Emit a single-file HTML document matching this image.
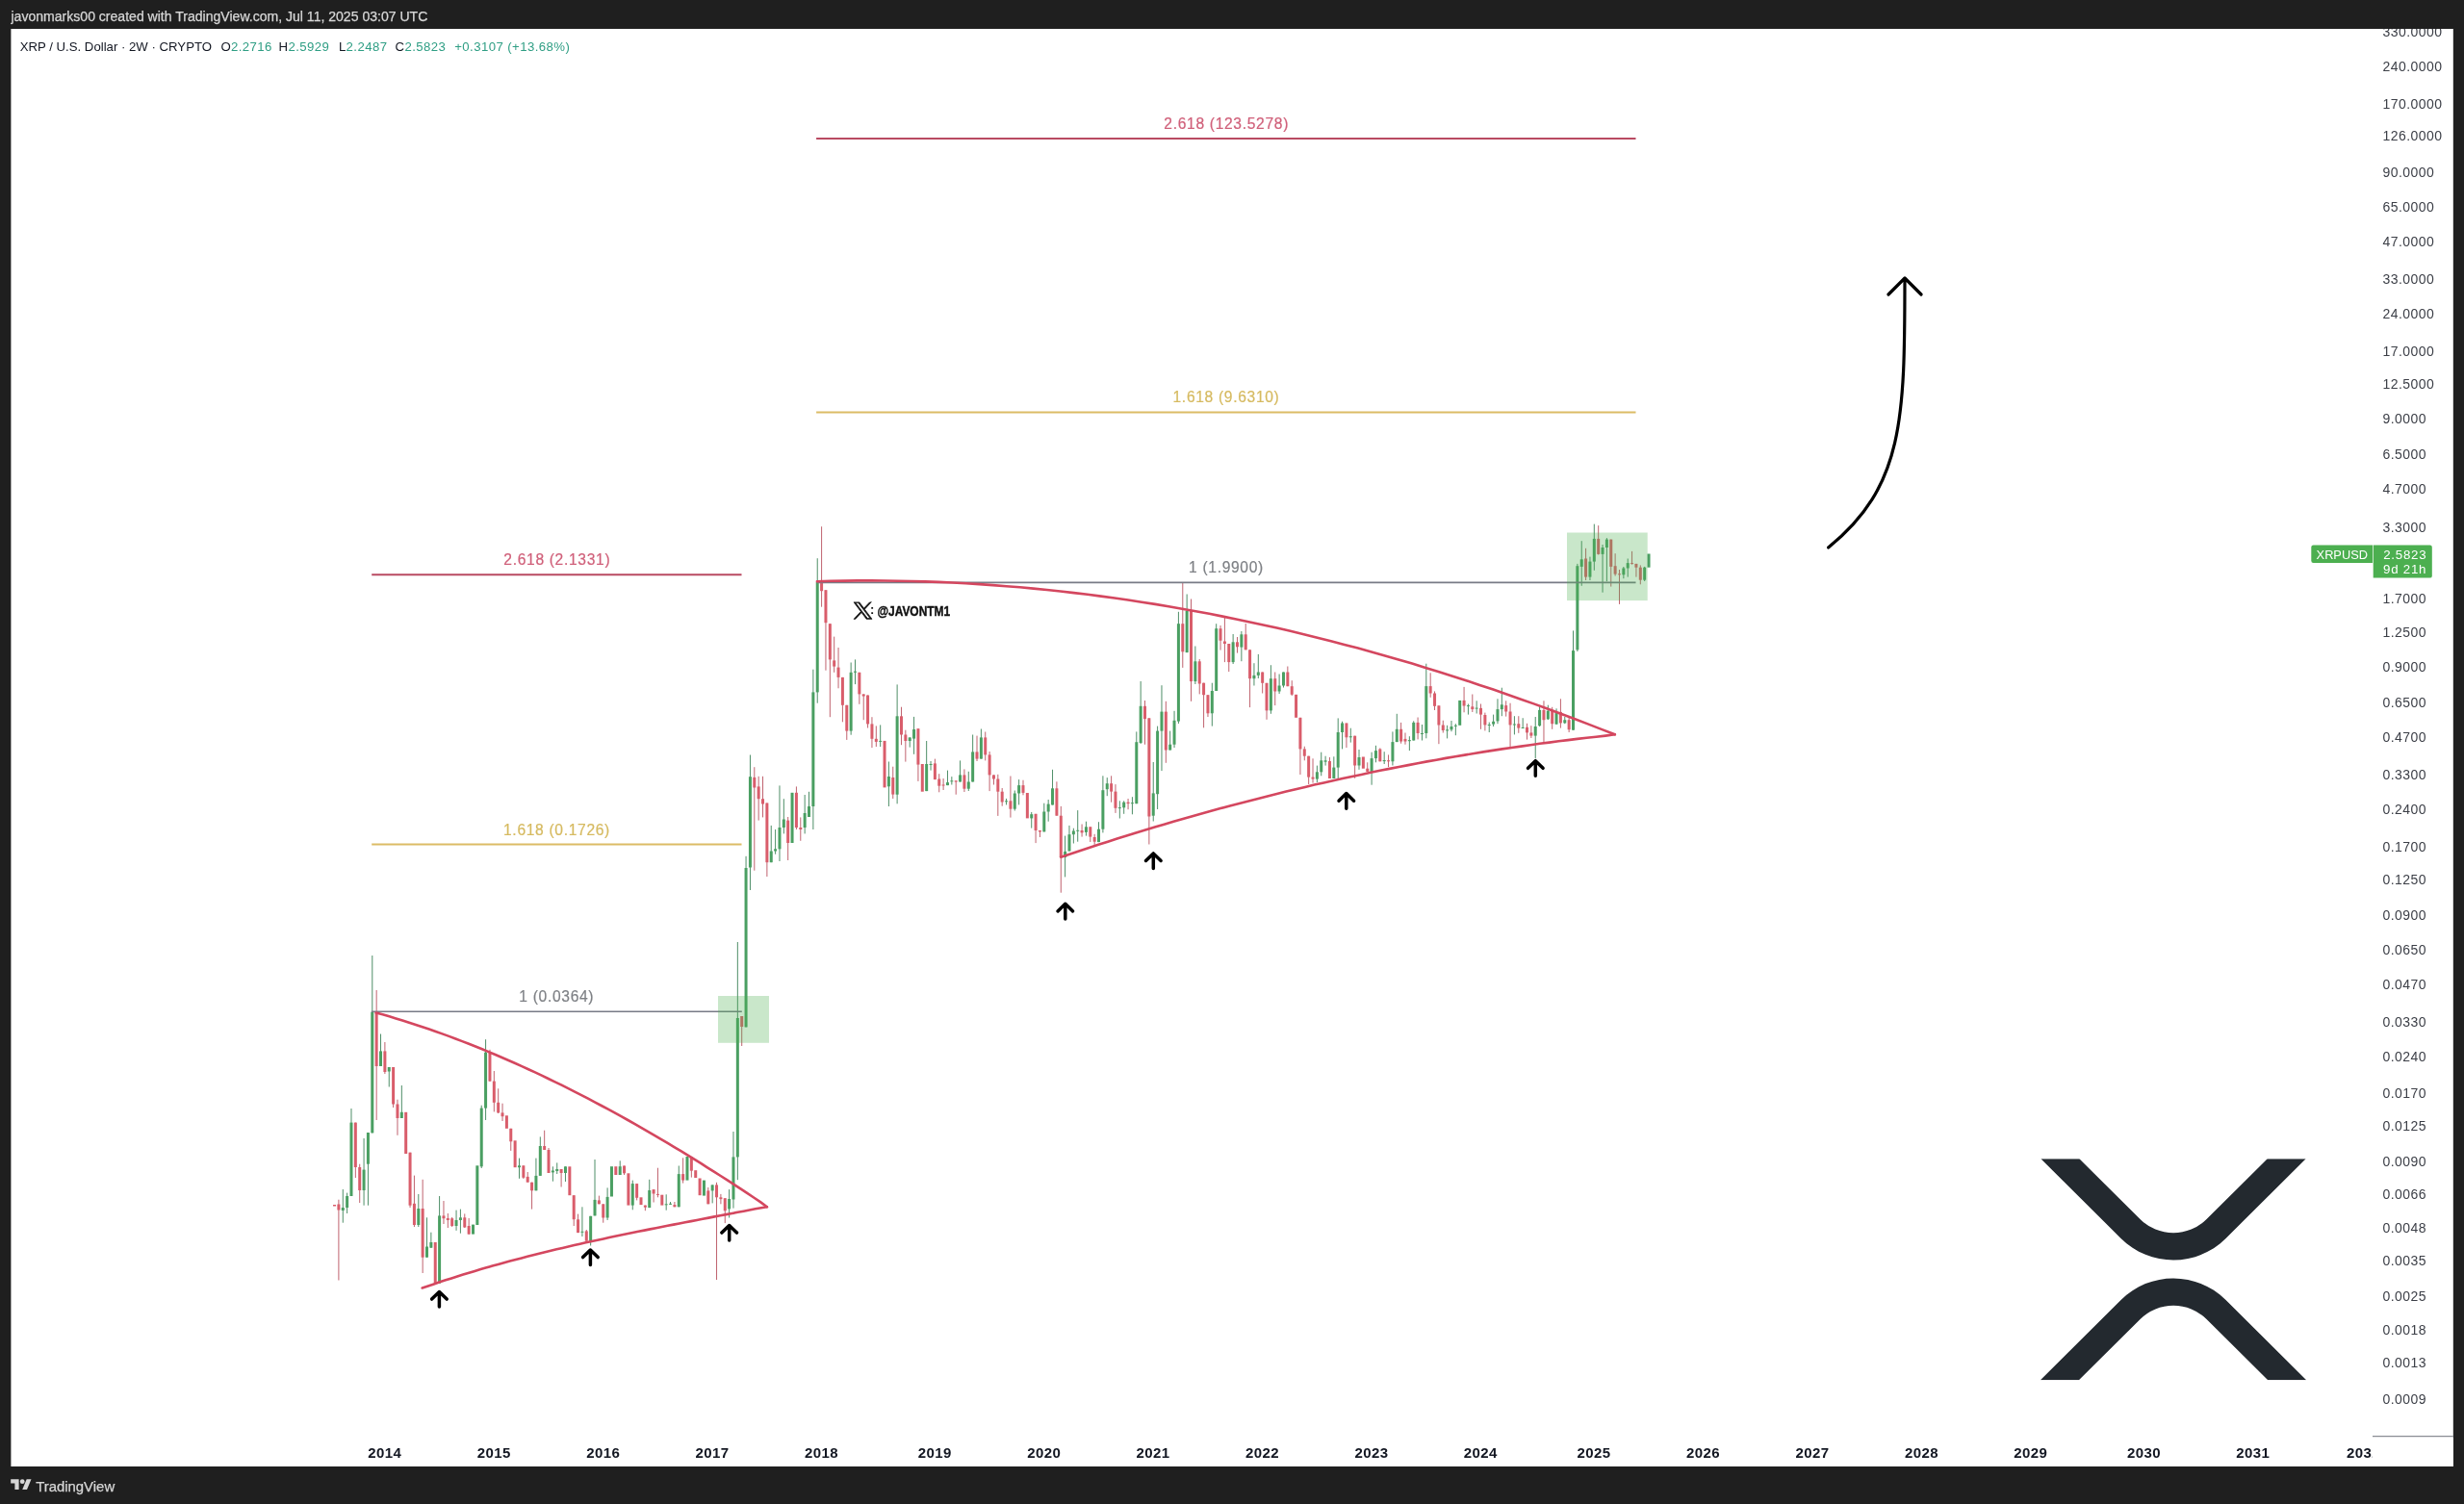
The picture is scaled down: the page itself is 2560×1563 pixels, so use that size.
<!DOCTYPE html>
<html><head><meta charset="utf-8"><style>
html,body{margin:0;padding:0;background:#1f1f1f;width:2560px;height:1563px;overflow:hidden}
svg text{font-family:"Liberation Sans",sans-serif}
</style></head><body>
<svg width="2560" height="1563" viewBox="0 0 2560 1563" style="position:absolute;left:0;top:0;will-change:transform">
<defs><clipPath id="pane"><rect x="11.4" y="30" width="2537.4" height="1494"/></clipPath>
<clipPath id="chart"><rect x="11.4" y="30" width="2453.6" height="1462"/></clipPath></defs>
<rect x="0" y="0" width="2560" height="1563" fill="#1f1f1f"/>
<rect x="11.4" y="30" width="2537.4" height="1494" fill="#ffffff"/>
<text x="11.5" y="22.1" font-size="14.05" fill="#d7d7d7" stroke="#d7d7d7" stroke-width="0.25">javonmarks00 created with TradingView.com, Jul 11, 2025 03:07 UTC</text>
<g clip-path="url(#pane)">
<g clip-path="url(#chart)">

<!-- candles -->
<rect x="346.03" y="1252" width="3" height="1.5" fill="#d95d6b"/>
<rect x="351.39" y="1246.7" width="1" height="83.8" fill="#c0636f"/>
<rect x="350.39" y="1251.5" width="3" height="6" fill="#d95d6b"/>
<rect x="355.76" y="1236" width="1" height="34.7" fill="#4f8f68"/>
<rect x="354.76" y="1255" width="3" height="3" fill="#4a9f62"/>
<rect x="360.12" y="1239.6" width="1" height="21.4" fill="#4f8f68"/>
<rect x="359.12" y="1243" width="3" height="12" fill="#4a9f62"/>
<rect x="364.48" y="1152" width="1" height="91" fill="#4f8f68"/>
<rect x="363.48" y="1166.6" width="3" height="76.4" fill="#4a9f62"/>
<rect x="368.84" y="1166.6" width="1" height="57.4" fill="#c0636f"/>
<rect x="367.84" y="1166.6" width="3" height="46.4" fill="#d95d6b"/>
<rect x="373.21" y="1209.7" width="1" height="40.3" fill="#c0636f"/>
<rect x="372.21" y="1213" width="3" height="24" fill="#d95d6b"/>
<rect x="377.57" y="1183" width="1" height="69.7" fill="#4f8f68"/>
<rect x="376.57" y="1215.6" width="3" height="21.4" fill="#4a9f62"/>
<rect x="381.93" y="1177" width="1" height="75.7" fill="#4f8f68"/>
<rect x="380.93" y="1177" width="3" height="32.7" fill="#4a9f62"/>
<rect x="386.29" y="993" width="1" height="184.4" fill="#4f8f68"/>
<rect x="385.29" y="1051.8" width="3" height="125.6" fill="#4a9f62"/>
<rect x="390.66" y="1029" width="1" height="135" fill="#c0636f"/>
<rect x="389.66" y="1051.8" width="3" height="56.2" fill="#d95d6b"/>
<rect x="395.02" y="1074.5" width="1" height="33.5" fill="#4f8f68"/>
<rect x="394.02" y="1092.4" width="3" height="15.6" fill="#4a9f62"/>
<rect x="399.38" y="1083" width="1" height="33" fill="#c0636f"/>
<rect x="398.38" y="1092.4" width="3" height="21.6" fill="#d95d6b"/>
<rect x="403.74" y="1109" width="1" height="20.5" fill="#4f8f68"/>
<rect x="402.74" y="1109" width="3" height="4.5" fill="#4a9f62"/>
<rect x="408.11" y="1109" width="1" height="42" fill="#c0636f"/>
<rect x="407.11" y="1109" width="3" height="38.5" fill="#d95d6b"/>
<rect x="412.47" y="1142.7" width="1" height="37.1" fill="#c0636f"/>
<rect x="411.47" y="1147.5" width="3" height="14.5" fill="#d95d6b"/>
<rect x="416.83" y="1128" width="1" height="34" fill="#4f8f68"/>
<rect x="415.83" y="1155.8" width="3" height="6.2" fill="#4a9f62"/>
<rect x="420.19" y="1155.8" width="3" height="43.2" fill="#d95d6b"/>
<rect x="425.56" y="1197.7" width="1" height="57.3" fill="#c0636f"/>
<rect x="424.56" y="1197.7" width="3" height="55" fill="#d95d6b"/>
<rect x="429.92" y="1221.6" width="1" height="53.4" fill="#c0636f"/>
<rect x="428.92" y="1250.8" width="3" height="22.2" fill="#d95d6b"/>
<rect x="434.28" y="1241" width="1" height="34" fill="#4f8f68"/>
<rect x="433.28" y="1256" width="3" height="17" fill="#4a9f62"/>
<rect x="438.64" y="1225.8" width="1" height="97.2" fill="#c0636f"/>
<rect x="437.64" y="1256" width="3" height="50.7" fill="#d95d6b"/>
<rect x="443.01" y="1265.3" width="1" height="41.4" fill="#4f8f68"/>
<rect x="442.01" y="1295.5" width="3" height="11.2" fill="#4a9f62"/>
<rect x="447.37" y="1280.7" width="1" height="16.3" fill="#4f8f68"/>
<rect x="446.37" y="1291" width="3" height="5.7" fill="#4a9f62"/>
<rect x="450.73" y="1291" width="3" height="42.7" fill="#d95d6b"/>
<rect x="456.09" y="1243" width="1" height="90.7" fill="#4f8f68"/>
<rect x="455.09" y="1263.4" width="3" height="70.3" fill="#4a9f62"/>
<rect x="460.46" y="1248" width="1" height="24" fill="#c0636f"/>
<rect x="459.46" y="1263.4" width="3" height="2.8" fill="#d95d6b"/>
<rect x="464.82" y="1261" width="1" height="15" fill="#c0636f"/>
<rect x="463.82" y="1266" width="3" height="2" fill="#d95d6b"/>
<rect x="469.18" y="1265" width="1" height="10" fill="#c0636f"/>
<rect x="468.18" y="1266.2" width="3" height="7.8" fill="#d95d6b"/>
<rect x="473.55" y="1257.6" width="1" height="21.2" fill="#4f8f68"/>
<rect x="472.55" y="1268" width="3" height="6" fill="#4a9f62"/>
<rect x="477.91" y="1256.6" width="1" height="25.1" fill="#4f8f68"/>
<rect x="476.91" y="1265.3" width="3" height="2.7" fill="#4a9f62"/>
<rect x="482.27" y="1261.4" width="1" height="14.6" fill="#c0636f"/>
<rect x="481.27" y="1265.3" width="3" height="10.2" fill="#d95d6b"/>
<rect x="486.63" y="1266" width="1" height="17" fill="#c0636f"/>
<rect x="485.63" y="1274" width="3" height="8.6" fill="#d95d6b"/>
<rect x="490" y="1272.6" width="3" height="10" fill="#4a9f62"/>
<rect x="494.36" y="1211.3" width="3" height="61.7" fill="#4a9f62"/>
<rect x="499.72" y="1148.7" width="1" height="65.3" fill="#4f8f68"/>
<rect x="498.72" y="1151.6" width="3" height="60.7" fill="#4a9f62"/>
<rect x="504.08" y="1080.2" width="1" height="83.8" fill="#4f8f68"/>
<rect x="503.08" y="1093.7" width="3" height="57.9" fill="#4a9f62"/>
<rect x="508.45" y="1090.8" width="1" height="33.2" fill="#c0636f"/>
<rect x="507.45" y="1093.7" width="3" height="29.9" fill="#d95d6b"/>
<rect x="512.81" y="1113" width="1" height="42.4" fill="#c0636f"/>
<rect x="511.81" y="1123.6" width="3" height="22.2" fill="#d95d6b"/>
<rect x="517.17" y="1131.3" width="1" height="25.7" fill="#c0636f"/>
<rect x="516.17" y="1145.8" width="3" height="10.6" fill="#d95d6b"/>
<rect x="521.53" y="1146.7" width="1" height="18.3" fill="#c0636f"/>
<rect x="520.53" y="1156.4" width="3" height="3.8" fill="#d95d6b"/>
<rect x="524.9" y="1159.3" width="3" height="13.5" fill="#d95d6b"/>
<rect x="530.26" y="1172.8" width="1" height="23.1" fill="#c0636f"/>
<rect x="529.26" y="1172.8" width="3" height="13.5" fill="#d95d6b"/>
<rect x="533.62" y="1185.3" width="3" height="27.9" fill="#d95d6b"/>
<rect x="538.98" y="1203.6" width="1" height="21.2" fill="#4f8f68"/>
<rect x="537.98" y="1211.3" width="3" height="1.9" fill="#4a9f62"/>
<rect x="543.35" y="1211.3" width="1" height="13.7" fill="#c0636f"/>
<rect x="542.35" y="1211.3" width="3" height="12.5" fill="#d95d6b"/>
<rect x="547.71" y="1218" width="1" height="10.7" fill="#c0636f"/>
<rect x="546.71" y="1222.9" width="3" height="5.8" fill="#d95d6b"/>
<rect x="552.07" y="1228.7" width="1" height="27.9" fill="#c0636f"/>
<rect x="551.07" y="1228.7" width="3" height="8.6" fill="#d95d6b"/>
<rect x="556.43" y="1203.6" width="1" height="33.7" fill="#4f8f68"/>
<rect x="555.43" y="1221.9" width="3" height="15.4" fill="#4a9f62"/>
<rect x="560.8" y="1181.4" width="1" height="40.5" fill="#4f8f68"/>
<rect x="559.8" y="1191" width="3" height="30.9" fill="#4a9f62"/>
<rect x="565.16" y="1174.7" width="1" height="20.3" fill="#c0636f"/>
<rect x="564.16" y="1191" width="3" height="4" fill="#d95d6b"/>
<rect x="569.52" y="1193" width="1" height="26" fill="#c0636f"/>
<rect x="568.52" y="1195" width="3" height="24" fill="#d95d6b"/>
<rect x="573.89" y="1212.3" width="1" height="15.4" fill="#4f8f68"/>
<rect x="572.89" y="1216.5" width="3" height="1.9" fill="#4a9f62"/>
<rect x="578.25" y="1208.4" width="1" height="11.6" fill="#4f8f68"/>
<rect x="577.25" y="1215" width="3" height="2" fill="#4a9f62"/>
<rect x="582.61" y="1215" width="1" height="18.5" fill="#c0636f"/>
<rect x="581.61" y="1215" width="3" height="4" fill="#d95d6b"/>
<rect x="586.97" y="1212.3" width="1" height="15.7" fill="#4f8f68"/>
<rect x="585.97" y="1212.3" width="3" height="6.7" fill="#4a9f62"/>
<rect x="590.34" y="1212.3" width="3" height="29.9" fill="#d95d6b"/>
<rect x="595.7" y="1242.2" width="1" height="31.8" fill="#c0636f"/>
<rect x="594.7" y="1242.2" width="3" height="25" fill="#d95d6b"/>
<rect x="600.06" y="1261.6" width="1" height="19.5" fill="#c0636f"/>
<rect x="599.06" y="1267.3" width="3" height="13.8" fill="#d95d6b"/>
<rect x="604.42" y="1254.3" width="1" height="30.7" fill="#4f8f68"/>
<rect x="603.42" y="1279.8" width="3" height="1" fill="#4a9f62"/>
<rect x="608.79" y="1278" width="1" height="11.7" fill="#c0636f"/>
<rect x="607.79" y="1279.4" width="3" height="10.3" fill="#d95d6b"/>
<rect x="613.15" y="1263.8" width="1" height="30.7" fill="#4f8f68"/>
<rect x="612.15" y="1263.8" width="3" height="25.9" fill="#4a9f62"/>
<rect x="617.51" y="1205" width="1" height="58.4" fill="#4f8f68"/>
<rect x="616.51" y="1246.9" width="3" height="16.5" fill="#4a9f62"/>
<rect x="621.87" y="1242.6" width="1" height="8.7" fill="#c0636f"/>
<rect x="620.87" y="1247.4" width="3" height="3.9" fill="#d95d6b"/>
<rect x="626.24" y="1251.3" width="1" height="19.4" fill="#c0636f"/>
<rect x="625.24" y="1251.3" width="3" height="14.2" fill="#d95d6b"/>
<rect x="630.6" y="1234.4" width="1" height="33.6" fill="#4f8f68"/>
<rect x="629.6" y="1243.9" width="3" height="21.6" fill="#4a9f62"/>
<rect x="633.96" y="1212.2" width="3" height="31.3" fill="#4a9f62"/>
<rect x="638.32" y="1212.2" width="3" height="8.8" fill="#d95d6b"/>
<rect x="643.69" y="1206.3" width="1" height="14.7" fill="#4f8f68"/>
<rect x="642.69" y="1212.2" width="3" height="8.8" fill="#4a9f62"/>
<rect x="648.05" y="1211.5" width="1" height="9.5" fill="#c0636f"/>
<rect x="647.05" y="1211.5" width="3" height="7.8" fill="#d95d6b"/>
<rect x="651.41" y="1219.3" width="3" height="33.3" fill="#d95d6b"/>
<rect x="656.77" y="1226.6" width="1" height="30.7" fill="#4f8f68"/>
<rect x="655.77" y="1230.1" width="3" height="22.5" fill="#4a9f62"/>
<rect x="661.14" y="1230.1" width="1" height="17.3" fill="#c0636f"/>
<rect x="660.14" y="1230.1" width="3" height="14.7" fill="#d95d6b"/>
<rect x="664.5" y="1244.3" width="3" height="7.8" fill="#d95d6b"/>
<rect x="669.86" y="1252.6" width="1" height="5.6" fill="#c0636f"/>
<rect x="668.86" y="1252.6" width="3" height="2.1" fill="#d95d6b"/>
<rect x="674.22" y="1225.8" width="1" height="29.3" fill="#4f8f68"/>
<rect x="673.22" y="1237" width="3" height="18.1" fill="#4a9f62"/>
<rect x="678.59" y="1236.1" width="1" height="13.4" fill="#c0636f"/>
<rect x="677.59" y="1236.1" width="3" height="4.4" fill="#d95d6b"/>
<rect x="682.95" y="1213.7" width="1" height="30.6" fill="#c0636f"/>
<rect x="681.95" y="1240.9" width="3" height="1" fill="#d95d6b"/>
<rect x="686.31" y="1241.7" width="3" height="10.9" fill="#d95d6b"/>
<rect x="691.68" y="1241.3" width="1" height="16.4" fill="#4f8f68"/>
<rect x="690.68" y="1251.3" width="3" height="1" fill="#4a9f62"/>
<rect x="696.04" y="1249" width="1" height="3" fill="#4f8f68"/>
<rect x="695.04" y="1250.8" width="3" height="1" fill="#4a9f62"/>
<rect x="700.4" y="1249" width="1" height="5.3" fill="#c0636f"/>
<rect x="699.4" y="1252.1" width="3" height="2.2" fill="#d95d6b"/>
<rect x="704.76" y="1211.5" width="1" height="42.8" fill="#4f8f68"/>
<rect x="703.76" y="1220.1" width="3" height="34.2" fill="#4a9f62"/>
<rect x="709.13" y="1203.3" width="1" height="26.3" fill="#c0636f"/>
<rect x="708.13" y="1220.1" width="3" height="6.5" fill="#d95d6b"/>
<rect x="712.49" y="1202" width="3" height="24.6" fill="#4a9f62"/>
<rect x="717.85" y="1202" width="1" height="21.6" fill="#c0636f"/>
<rect x="716.85" y="1202" width="3" height="14.7" fill="#d95d6b"/>
<rect x="721.21" y="1216.2" width="3" height="7.8" fill="#d95d6b"/>
<rect x="725.58" y="1224.5" width="3" height="17.7" fill="#d95d6b"/>
<rect x="729.94" y="1226.6" width="3" height="16" fill="#4a9f62"/>
<rect x="735.3" y="1234" width="1" height="17.3" fill="#c0636f"/>
<rect x="734.3" y="1237.4" width="3" height="13.9" fill="#d95d6b"/>
<rect x="739.66" y="1231.4" width="1" height="19" fill="#4f8f68"/>
<rect x="738.66" y="1231.4" width="3" height="6" fill="#4a9f62"/>
<rect x="744.03" y="1228.8" width="1" height="101.2" fill="#c0636f"/>
<rect x="743.03" y="1231.4" width="3" height="12.9" fill="#d95d6b"/>
<rect x="748.39" y="1240.9" width="1" height="10.4" fill="#c0636f"/>
<rect x="747.39" y="1244.3" width="3" height="1.8" fill="#d95d6b"/>
<rect x="752.75" y="1245.2" width="1" height="25.9" fill="#c0636f"/>
<rect x="751.75" y="1245.2" width="3" height="13" fill="#d95d6b"/>
<rect x="757.11" y="1236.1" width="1" height="29.4" fill="#4f8f68"/>
<rect x="756.11" y="1246" width="3" height="10.4" fill="#4a9f62"/>
<rect x="761.48" y="1176" width="1" height="79.6" fill="#4f8f68"/>
<rect x="760.48" y="1202.4" width="3" height="44.1" fill="#4a9f62"/>
<rect x="765.84" y="979" width="1" height="247.2" fill="#4f8f68"/>
<rect x="764.84" y="1058" width="3" height="144.4" fill="#4a9f62"/>
<rect x="770.2" y="1056" width="1" height="31" fill="#c0636f"/>
<rect x="769.2" y="1056" width="3" height="11" fill="#d95d6b"/>
<rect x="774.56" y="889.8" width="1" height="177.6" fill="#4f8f68"/>
<rect x="773.56" y="902" width="3" height="165.4" fill="#4a9f62"/>
<rect x="778.93" y="784.5" width="1" height="140.5" fill="#4f8f68"/>
<rect x="777.93" y="807.2" width="3" height="94.3" fill="#4a9f62"/>
<rect x="783.29" y="797.2" width="1" height="107.5" fill="#c0636f"/>
<rect x="782.29" y="807.9" width="3" height="10.6" fill="#d95d6b"/>
<rect x="787.65" y="806.8" width="1" height="45.8" fill="#c0636f"/>
<rect x="786.65" y="817.4" width="3" height="12.8" fill="#d95d6b"/>
<rect x="792.02" y="806.8" width="1" height="42.6" fill="#c0636f"/>
<rect x="791.02" y="830.2" width="3" height="5.3" fill="#d95d6b"/>
<rect x="796.38" y="834.5" width="1" height="76.5" fill="#c0636f"/>
<rect x="795.38" y="834.5" width="3" height="61.7" fill="#d95d6b"/>
<rect x="800.74" y="857.9" width="1" height="38.3" fill="#4f8f68"/>
<rect x="799.74" y="884.5" width="3" height="11.7" fill="#4a9f62"/>
<rect x="805.1" y="862" width="1" height="25.7" fill="#4f8f68"/>
<rect x="804.1" y="882.3" width="3" height="2.2" fill="#4a9f62"/>
<rect x="809.47" y="816.4" width="1" height="78.6" fill="#4f8f68"/>
<rect x="808.47" y="860" width="3" height="22.3" fill="#4a9f62"/>
<rect x="813.83" y="830.2" width="1" height="36.2" fill="#4f8f68"/>
<rect x="812.83" y="851.5" width="3" height="8.5" fill="#4a9f62"/>
<rect x="818.19" y="849" width="1" height="45" fill="#c0636f"/>
<rect x="817.19" y="852.6" width="3" height="23.4" fill="#d95d6b"/>
<rect x="821.55" y="823.8" width="3" height="52.2" fill="#4a9f62"/>
<rect x="826.92" y="817.4" width="1" height="44.6" fill="#c0636f"/>
<rect x="825.92" y="823.8" width="3" height="36.2" fill="#d95d6b"/>
<rect x="831.28" y="849.4" width="1" height="24.4" fill="#c0636f"/>
<rect x="830.28" y="860" width="3" height="2" fill="#d95d6b"/>
<rect x="835.64" y="826" width="1" height="40.4" fill="#4f8f68"/>
<rect x="834.64" y="845" width="3" height="15" fill="#4a9f62"/>
<rect x="840" y="822.8" width="1" height="26.2" fill="#4f8f68"/>
<rect x="839" y="838" width="3" height="11" fill="#4a9f62"/>
<rect x="844.37" y="695.7" width="1" height="166.3" fill="#4f8f68"/>
<rect x="843.37" y="719.4" width="3" height="118.6" fill="#4a9f62"/>
<rect x="848.73" y="580.2" width="1" height="150.5" fill="#4f8f68"/>
<rect x="847.73" y="605" width="3" height="114.4" fill="#4a9f62"/>
<rect x="853.09" y="547.2" width="1" height="83.5" fill="#c0636f"/>
<rect x="852.09" y="605" width="3" height="9.2" fill="#d95d6b"/>
<rect x="857.45" y="613.2" width="1" height="83.5" fill="#c0636f"/>
<rect x="856.45" y="613.2" width="3" height="34" fill="#d95d6b"/>
<rect x="861.82" y="648.2" width="1" height="97" fill="#c0636f"/>
<rect x="860.82" y="648.2" width="3" height="37.2" fill="#d95d6b"/>
<rect x="866.18" y="661.6" width="1" height="37.2" fill="#c0636f"/>
<rect x="865.18" y="686.4" width="3" height="6.2" fill="#d95d6b"/>
<rect x="870.54" y="673" width="1" height="42.3" fill="#c0636f"/>
<rect x="869.54" y="693.6" width="3" height="10.3" fill="#d95d6b"/>
<rect x="874.9" y="703.9" width="1" height="46.4" fill="#c0636f"/>
<rect x="873.9" y="703.9" width="3" height="28.9" fill="#d95d6b"/>
<rect x="879.27" y="732.8" width="1" height="36.1" fill="#c0636f"/>
<rect x="878.27" y="732.8" width="3" height="26.8" fill="#d95d6b"/>
<rect x="883.63" y="688.5" width="1" height="75.2" fill="#4f8f68"/>
<rect x="882.63" y="698.8" width="3" height="60.8" fill="#4a9f62"/>
<rect x="887.99" y="685.4" width="1" height="25.7" fill="#4f8f68"/>
<rect x="886.99" y="697.7" width="3" height="1.1" fill="#4a9f62"/>
<rect x="892.35" y="698.8" width="1" height="33" fill="#c0636f"/>
<rect x="891.35" y="698.8" width="3" height="22.6" fill="#d95d6b"/>
<rect x="896.72" y="721.4" width="1" height="26.8" fill="#c0636f"/>
<rect x="895.72" y="721.4" width="3" height="2.1" fill="#d95d6b"/>
<rect x="901.08" y="722.5" width="1" height="34" fill="#c0636f"/>
<rect x="900.08" y="722.5" width="3" height="29.9" fill="#d95d6b"/>
<rect x="905.44" y="745.2" width="1" height="31.9" fill="#c0636f"/>
<rect x="904.44" y="752.4" width="3" height="15.4" fill="#d95d6b"/>
<rect x="909.81" y="754.4" width="1" height="21.6" fill="#c0636f"/>
<rect x="908.81" y="767.8" width="3" height="3.1" fill="#d95d6b"/>
<rect x="914.17" y="753.4" width="1" height="22.6" fill="#4f8f68"/>
<rect x="913.17" y="769.9" width="3" height="1" fill="#4a9f62"/>
<rect x="917.53" y="769.9" width="3" height="48.5" fill="#d95d6b"/>
<rect x="922.89" y="791.5" width="1" height="46.5" fill="#4f8f68"/>
<rect x="921.89" y="807" width="3" height="10.3" fill="#4a9f62"/>
<rect x="927.26" y="796.7" width="1" height="33.3" fill="#c0636f"/>
<rect x="926.26" y="808" width="3" height="17.6" fill="#d95d6b"/>
<rect x="931.62" y="711.4" width="1" height="123.9" fill="#4f8f68"/>
<rect x="930.62" y="744.3" width="3" height="81.4" fill="#4a9f62"/>
<rect x="935.98" y="734.7" width="1" height="39.5" fill="#c0636f"/>
<rect x="934.98" y="744.3" width="3" height="19.2" fill="#d95d6b"/>
<rect x="940.34" y="758.7" width="1" height="32.9" fill="#c0636f"/>
<rect x="939.34" y="763.5" width="3" height="6.5" fill="#d95d6b"/>
<rect x="944.71" y="766.4" width="1" height="10.2" fill="#4f8f68"/>
<rect x="943.71" y="766.4" width="3" height="3.6" fill="#4a9f62"/>
<rect x="949.07" y="744.9" width="1" height="38.9" fill="#4f8f68"/>
<rect x="948.07" y="758" width="3" height="9.6" fill="#4a9f62"/>
<rect x="953.43" y="757.2" width="1" height="54.7" fill="#c0636f"/>
<rect x="952.43" y="757.2" width="3" height="37.4" fill="#d95d6b"/>
<rect x="956.79" y="794" width="3" height="28.7" fill="#d95d6b"/>
<rect x="962.16" y="770" width="1" height="52.1" fill="#4f8f68"/>
<rect x="961.16" y="794" width="3" height="28.1" fill="#4a9f62"/>
<rect x="966.52" y="791" width="1" height="9.6" fill="#4f8f68"/>
<rect x="965.52" y="794" width="3" height="1" fill="#4a9f62"/>
<rect x="970.88" y="788.6" width="1" height="21.5" fill="#c0636f"/>
<rect x="969.88" y="793.4" width="3" height="16.7" fill="#d95d6b"/>
<rect x="975.24" y="804.2" width="1" height="19.1" fill="#c0636f"/>
<rect x="974.24" y="809.5" width="3" height="7.2" fill="#d95d6b"/>
<rect x="979.61" y="809" width="1" height="12" fill="#c0636f"/>
<rect x="978.61" y="815.5" width="3" height="1" fill="#d95d6b"/>
<rect x="983.97" y="800.6" width="1" height="15.5" fill="#4f8f68"/>
<rect x="982.97" y="813.1" width="3" height="3" fill="#4a9f62"/>
<rect x="988.33" y="807.1" width="1" height="8.4" fill="#4f8f68"/>
<rect x="987.33" y="811.3" width="3" height="1" fill="#4a9f62"/>
<rect x="992.69" y="811.3" width="1" height="14.4" fill="#c0636f"/>
<rect x="991.69" y="811.3" width="3" height="1.2" fill="#d95d6b"/>
<rect x="997.06" y="790.4" width="1" height="22.1" fill="#4f8f68"/>
<rect x="996.06" y="805.4" width="3" height="7.1" fill="#4a9f62"/>
<rect x="1001.42" y="799.4" width="1" height="23.6" fill="#c0636f"/>
<rect x="1000.42" y="805.4" width="3" height="14.3" fill="#d95d6b"/>
<rect x="1005.78" y="801.8" width="1" height="20.2" fill="#4f8f68"/>
<rect x="1004.78" y="812.5" width="3" height="7.2" fill="#4a9f62"/>
<rect x="1010.15" y="763.5" width="1" height="49" fill="#4f8f68"/>
<rect x="1009.15" y="781.4" width="3" height="31.1" fill="#4a9f62"/>
<rect x="1014.51" y="764.6" width="1" height="26.4" fill="#c0636f"/>
<rect x="1013.51" y="781.4" width="3" height="7.2" fill="#d95d6b"/>
<rect x="1018.87" y="757.5" width="1" height="31.1" fill="#4f8f68"/>
<rect x="1017.87" y="766.4" width="3" height="22.2" fill="#4a9f62"/>
<rect x="1023.23" y="760.5" width="1" height="29.9" fill="#c0636f"/>
<rect x="1022.23" y="766.4" width="3" height="18" fill="#d95d6b"/>
<rect x="1027.6" y="781" width="1" height="41.1" fill="#c0636f"/>
<rect x="1026.6" y="784.4" width="3" height="21" fill="#d95d6b"/>
<rect x="1031.96" y="805.4" width="1" height="10.1" fill="#c0636f"/>
<rect x="1030.96" y="805.4" width="3" height="4.1" fill="#d95d6b"/>
<rect x="1036.32" y="804.8" width="1" height="43.1" fill="#c0636f"/>
<rect x="1035.32" y="809.5" width="3" height="13.2" fill="#d95d6b"/>
<rect x="1040.68" y="819" width="1" height="18.7" fill="#c0636f"/>
<rect x="1039.68" y="822.7" width="3" height="10.8" fill="#d95d6b"/>
<rect x="1045.05" y="829.9" width="1" height="6.5" fill="#4f8f68"/>
<rect x="1044.05" y="832.3" width="3" height="1" fill="#4a9f62"/>
<rect x="1049.41" y="806.5" width="1" height="43.1" fill="#c0636f"/>
<rect x="1048.41" y="832.3" width="3" height="8.4" fill="#d95d6b"/>
<rect x="1053.77" y="821.5" width="1" height="21" fill="#4f8f68"/>
<rect x="1052.77" y="824.5" width="3" height="16.2" fill="#4a9f62"/>
<rect x="1058.13" y="810.1" width="1" height="26.3" fill="#4f8f68"/>
<rect x="1057.13" y="816.1" width="3" height="8.4" fill="#4a9f62"/>
<rect x="1062.5" y="810.7" width="1" height="15.6" fill="#c0636f"/>
<rect x="1061.5" y="816.1" width="3" height="7.8" fill="#d95d6b"/>
<rect x="1065.86" y="824" width="3" height="26.4" fill="#d95d6b"/>
<rect x="1071.22" y="844" width="1" height="16.6" fill="#4f8f68"/>
<rect x="1070.22" y="846.2" width="3" height="4.2" fill="#4a9f62"/>
<rect x="1075.58" y="845.8" width="1" height="30.3" fill="#c0636f"/>
<rect x="1074.58" y="845.8" width="3" height="17.2" fill="#d95d6b"/>
<rect x="1079.95" y="863" width="1" height="7" fill="#c0636f"/>
<rect x="1078.95" y="863" width="3" height="1.4" fill="#d95d6b"/>
<rect x="1084.31" y="834.7" width="1" height="29.7" fill="#4f8f68"/>
<rect x="1083.31" y="843.5" width="3" height="20.9" fill="#4a9f62"/>
<rect x="1088.67" y="831" width="1" height="22.7" fill="#4f8f68"/>
<rect x="1087.67" y="835.6" width="3" height="7.9" fill="#4a9f62"/>
<rect x="1093.03" y="799.8" width="1" height="36.7" fill="#4f8f68"/>
<rect x="1092.03" y="819.3" width="3" height="17.2" fill="#4a9f62"/>
<rect x="1097.4" y="812.3" width="1" height="35.4" fill="#c0636f"/>
<rect x="1096.4" y="819.3" width="3" height="28.4" fill="#d95d6b"/>
<rect x="1101.76" y="837.9" width="1" height="89.8" fill="#c0636f"/>
<rect x="1100.76" y="847.7" width="3" height="43.3" fill="#d95d6b"/>
<rect x="1106.12" y="868.6" width="1" height="42.8" fill="#4f8f68"/>
<rect x="1105.12" y="884.9" width="3" height="6.1" fill="#4a9f62"/>
<rect x="1110.48" y="857.9" width="1" height="26.6" fill="#4f8f68"/>
<rect x="1109.48" y="867.2" width="3" height="17.3" fill="#4a9f62"/>
<rect x="1114.85" y="860.7" width="1" height="15.8" fill="#4f8f68"/>
<rect x="1113.85" y="863.5" width="3" height="3.7" fill="#4a9f62"/>
<rect x="1119.21" y="842.1" width="1" height="32.6" fill="#4f8f68"/>
<rect x="1118.21" y="862.8" width="3" height="1" fill="#4a9f62"/>
<rect x="1123.57" y="856.5" width="1" height="13.1" fill="#c0636f"/>
<rect x="1122.57" y="863" width="3" height="2.4" fill="#d95d6b"/>
<rect x="1127.94" y="853.7" width="1" height="14.9" fill="#4f8f68"/>
<rect x="1126.94" y="859.3" width="3" height="5.6" fill="#4a9f62"/>
<rect x="1132.3" y="859.3" width="1" height="15.7" fill="#c0636f"/>
<rect x="1131.3" y="859.3" width="3" height="10.3" fill="#d95d6b"/>
<rect x="1136.66" y="866.8" width="1" height="11.1" fill="#c0636f"/>
<rect x="1135.66" y="870" width="3" height="4.7" fill="#d95d6b"/>
<rect x="1141.02" y="854.2" width="1" height="20.9" fill="#4f8f68"/>
<rect x="1140.02" y="861.7" width="3" height="13.4" fill="#4a9f62"/>
<rect x="1145.39" y="806.3" width="1" height="59.1" fill="#4f8f68"/>
<rect x="1144.39" y="821.2" width="3" height="40.5" fill="#4a9f62"/>
<rect x="1149.75" y="808.1" width="1" height="19.1" fill="#4f8f68"/>
<rect x="1148.75" y="814.2" width="3" height="6" fill="#4a9f62"/>
<rect x="1154.11" y="806.3" width="1" height="27.4" fill="#c0636f"/>
<rect x="1153.11" y="814.2" width="3" height="8.4" fill="#d95d6b"/>
<rect x="1158.47" y="815.1" width="1" height="29.8" fill="#c0636f"/>
<rect x="1157.47" y="822.6" width="3" height="17.2" fill="#d95d6b"/>
<rect x="1162.84" y="832.3" width="1" height="18.2" fill="#4f8f68"/>
<rect x="1161.84" y="839.1" width="3" height="1" fill="#4a9f62"/>
<rect x="1167.2" y="832.3" width="1" height="13.5" fill="#4f8f68"/>
<rect x="1166.2" y="833.7" width="3" height="5.6" fill="#4a9f62"/>
<rect x="1171.56" y="830" width="1" height="11.2" fill="#c0636f"/>
<rect x="1170.56" y="833.7" width="3" height="1.4" fill="#d95d6b"/>
<rect x="1175.92" y="828.2" width="1" height="18.1" fill="#4f8f68"/>
<rect x="1174.92" y="834.2" width="3" height="1" fill="#4a9f62"/>
<rect x="1180.29" y="760.4" width="1" height="74.8" fill="#4f8f68"/>
<rect x="1179.29" y="771.2" width="3" height="64" fill="#4a9f62"/>
<rect x="1184.65" y="708" width="1" height="65" fill="#4f8f68"/>
<rect x="1183.65" y="733.8" width="3" height="38.2" fill="#4a9f62"/>
<rect x="1189.01" y="728" width="1" height="45.7" fill="#c0636f"/>
<rect x="1188.01" y="733.8" width="3" height="13.3" fill="#d95d6b"/>
<rect x="1193.37" y="746.3" width="1" height="131.2" fill="#c0636f"/>
<rect x="1192.37" y="746.3" width="3" height="102.2" fill="#d95d6b"/>
<rect x="1197.74" y="792" width="1" height="61.5" fill="#4f8f68"/>
<rect x="1196.74" y="824.4" width="3" height="23.3" fill="#4a9f62"/>
<rect x="1202.1" y="754.6" width="1" height="86.4" fill="#4f8f68"/>
<rect x="1201.1" y="759.6" width="3" height="65.6" fill="#4a9f62"/>
<rect x="1206.46" y="712.2" width="1" height="88.9" fill="#4f8f68"/>
<rect x="1205.46" y="739.6" width="3" height="20" fill="#4a9f62"/>
<rect x="1210.82" y="728.8" width="1" height="64" fill="#c0636f"/>
<rect x="1209.82" y="739.6" width="3" height="39.9" fill="#d95d6b"/>
<rect x="1215.19" y="759.6" width="1" height="19.9" fill="#4f8f68"/>
<rect x="1214.19" y="773.7" width="3" height="5.8" fill="#4a9f62"/>
<rect x="1219.55" y="738.8" width="1" height="38.2" fill="#4f8f68"/>
<rect x="1218.55" y="748.8" width="3" height="24.9" fill="#4a9f62"/>
<rect x="1223.91" y="635.8" width="1" height="116.2" fill="#4f8f68"/>
<rect x="1222.91" y="648.2" width="3" height="101.4" fill="#4a9f62"/>
<rect x="1228.28" y="605.5" width="1" height="88.4" fill="#c0636f"/>
<rect x="1227.28" y="648.2" width="3" height="29.1" fill="#d95d6b"/>
<rect x="1232.64" y="617.5" width="1" height="60.6" fill="#4f8f68"/>
<rect x="1231.64" y="634.9" width="3" height="43.2" fill="#4a9f62"/>
<rect x="1237" y="622.5" width="1" height="106.3" fill="#c0636f"/>
<rect x="1236" y="634.9" width="3" height="73.2" fill="#d95d6b"/>
<rect x="1241.36" y="671.5" width="1" height="39.5" fill="#4f8f68"/>
<rect x="1240.36" y="687.3" width="3" height="20.8" fill="#4a9f62"/>
<rect x="1245.73" y="685" width="1" height="36.4" fill="#c0636f"/>
<rect x="1244.73" y="687.3" width="3" height="23.2" fill="#d95d6b"/>
<rect x="1250.09" y="709.7" width="1" height="46.6" fill="#c0636f"/>
<rect x="1249.09" y="709.7" width="3" height="12.5" fill="#d95d6b"/>
<rect x="1254.45" y="722.2" width="1" height="22.8" fill="#c0636f"/>
<rect x="1253.45" y="722.2" width="3" height="19.1" fill="#d95d6b"/>
<rect x="1258.81" y="709.7" width="1" height="44.9" fill="#4f8f68"/>
<rect x="1257.81" y="718" width="3" height="23.3" fill="#4a9f62"/>
<rect x="1263.18" y="648.2" width="1" height="69.8" fill="#4f8f68"/>
<rect x="1262.18" y="653.2" width="3" height="64.8" fill="#4a9f62"/>
<rect x="1267.54" y="650" width="1" height="25.6" fill="#c0636f"/>
<rect x="1266.54" y="653.2" width="3" height="12.5" fill="#d95d6b"/>
<rect x="1271.9" y="641.6" width="1" height="46.5" fill="#c0636f"/>
<rect x="1270.9" y="666.5" width="3" height="2.5" fill="#d95d6b"/>
<rect x="1276.26" y="669" width="1" height="29.1" fill="#c0636f"/>
<rect x="1275.26" y="669" width="3" height="19.1" fill="#d95d6b"/>
<rect x="1280.63" y="659" width="1" height="31" fill="#4f8f68"/>
<rect x="1279.63" y="667.3" width="3" height="20.8" fill="#4a9f62"/>
<rect x="1284.99" y="662" width="1" height="16.6" fill="#c0636f"/>
<rect x="1283.99" y="667.3" width="3" height="5" fill="#d95d6b"/>
<rect x="1289.35" y="656" width="1" height="31.2" fill="#4f8f68"/>
<rect x="1288.35" y="659.3" width="3" height="13.3" fill="#4a9f62"/>
<rect x="1293.71" y="648" width="1" height="27.3" fill="#c0636f"/>
<rect x="1292.71" y="659.3" width="3" height="16" fill="#d95d6b"/>
<rect x="1298.08" y="675.3" width="1" height="59.8" fill="#c0636f"/>
<rect x="1297.08" y="675.3" width="3" height="29.9" fill="#d95d6b"/>
<rect x="1302.44" y="689.2" width="1" height="23.3" fill="#4f8f68"/>
<rect x="1301.44" y="701.9" width="3" height="3.3" fill="#4a9f62"/>
<rect x="1306.8" y="679.9" width="1" height="25.1" fill="#4f8f68"/>
<rect x="1305.8" y="698.5" width="3" height="3.4" fill="#4a9f62"/>
<rect x="1311.16" y="698.5" width="1" height="22" fill="#c0636f"/>
<rect x="1310.16" y="698.5" width="3" height="11.3" fill="#d95d6b"/>
<rect x="1315.53" y="709.8" width="1" height="38" fill="#c0636f"/>
<rect x="1314.53" y="709.8" width="3" height="28.6" fill="#d95d6b"/>
<rect x="1319.89" y="691.2" width="1" height="50.6" fill="#4f8f68"/>
<rect x="1318.89" y="705.2" width="3" height="33.2" fill="#4a9f62"/>
<rect x="1324.25" y="698.5" width="1" height="34.6" fill="#c0636f"/>
<rect x="1323.25" y="705.2" width="3" height="13.3" fill="#d95d6b"/>
<rect x="1328.61" y="700.5" width="1" height="20.5" fill="#4f8f68"/>
<rect x="1327.61" y="712.5" width="3" height="6" fill="#4a9f62"/>
<rect x="1332.98" y="698.5" width="1" height="16" fill="#4f8f68"/>
<rect x="1331.98" y="698.5" width="3" height="14" fill="#4a9f62"/>
<rect x="1337.34" y="692.5" width="1" height="20.7" fill="#c0636f"/>
<rect x="1336.34" y="698.5" width="3" height="14.7" fill="#d95d6b"/>
<rect x="1341.7" y="707.2" width="1" height="15.8" fill="#c0636f"/>
<rect x="1340.7" y="713.2" width="3" height="8.6" fill="#d95d6b"/>
<rect x="1345.07" y="721.8" width="3" height="24" fill="#d95d6b"/>
<rect x="1350.43" y="745.8" width="1" height="59.2" fill="#c0636f"/>
<rect x="1349.43" y="745.8" width="3" height="32.6" fill="#d95d6b"/>
<rect x="1354.79" y="775.7" width="1" height="14.6" fill="#c0636f"/>
<rect x="1353.79" y="778.4" width="3" height="7.3" fill="#d95d6b"/>
<rect x="1359.15" y="785.7" width="1" height="29.3" fill="#c0636f"/>
<rect x="1358.15" y="785.7" width="3" height="21.9" fill="#d95d6b"/>
<rect x="1363.52" y="788.3" width="1" height="25.3" fill="#c0636f"/>
<rect x="1362.52" y="807.6" width="3" height="2" fill="#d95d6b"/>
<rect x="1367.88" y="795.6" width="1" height="17.4" fill="#4f8f68"/>
<rect x="1366.88" y="802.3" width="3" height="7.3" fill="#4a9f62"/>
<rect x="1372.24" y="781.7" width="1" height="24.6" fill="#4f8f68"/>
<rect x="1371.24" y="790.3" width="3" height="12" fill="#4a9f62"/>
<rect x="1376.6" y="785.7" width="1" height="9.9" fill="#4f8f68"/>
<rect x="1375.6" y="790.3" width="3" height="1.4" fill="#4a9f62"/>
<rect x="1380.97" y="787" width="1" height="22" fill="#c0636f"/>
<rect x="1379.97" y="791" width="3" height="18" fill="#d95d6b"/>
<rect x="1385.33" y="786.3" width="1" height="22.7" fill="#4f8f68"/>
<rect x="1384.33" y="797.6" width="3" height="11.4" fill="#4a9f62"/>
<rect x="1389.69" y="746.4" width="1" height="63.2" fill="#4f8f68"/>
<rect x="1388.69" y="761" width="3" height="36.6" fill="#4a9f62"/>
<rect x="1394.05" y="749.7" width="1" height="28.7" fill="#4f8f68"/>
<rect x="1393.05" y="751.5" width="3" height="9.5" fill="#4a9f62"/>
<rect x="1398.42" y="751.5" width="1" height="25.5" fill="#c0636f"/>
<rect x="1397.42" y="751.5" width="3" height="14.8" fill="#d95d6b"/>
<rect x="1402.78" y="756.7" width="1" height="14.9" fill="#4f8f68"/>
<rect x="1401.78" y="765.2" width="3" height="1.1" fill="#4a9f62"/>
<rect x="1407.14" y="764.7" width="1" height="44.1" fill="#c0636f"/>
<rect x="1406.14" y="764.7" width="3" height="30.8" fill="#d95d6b"/>
<rect x="1411.5" y="779" width="1" height="20.8" fill="#4f8f68"/>
<rect x="1410.5" y="787" width="3" height="8.5" fill="#4a9f62"/>
<rect x="1414.87" y="786.5" width="3" height="12.2" fill="#d95d6b"/>
<rect x="1420.23" y="792.3" width="1" height="9.6" fill="#c0636f"/>
<rect x="1419.23" y="798.7" width="3" height="3.2" fill="#d95d6b"/>
<rect x="1424.59" y="781.7" width="1" height="34" fill="#4f8f68"/>
<rect x="1423.59" y="788.1" width="3" height="13.8" fill="#4a9f62"/>
<rect x="1428.95" y="774.8" width="1" height="17.5" fill="#4f8f68"/>
<rect x="1427.95" y="780.1" width="3" height="8" fill="#4a9f62"/>
<rect x="1433.32" y="777.4" width="1" height="13.9" fill="#c0636f"/>
<rect x="1432.32" y="778.5" width="3" height="12.8" fill="#d95d6b"/>
<rect x="1437.68" y="781.2" width="1" height="12.8" fill="#4f8f68"/>
<rect x="1436.68" y="790" width="3" height="1.1" fill="#4a9f62"/>
<rect x="1442.04" y="784.4" width="1" height="12.7" fill="#c0636f"/>
<rect x="1441.04" y="790.2" width="3" height="1.1" fill="#d95d6b"/>
<rect x="1446.41" y="760.4" width="1" height="35.1" fill="#4f8f68"/>
<rect x="1445.41" y="771.1" width="3" height="20.2" fill="#4a9f62"/>
<rect x="1450.77" y="741.8" width="1" height="29.3" fill="#4f8f68"/>
<rect x="1449.77" y="757.8" width="3" height="13.3" fill="#4a9f62"/>
<rect x="1455.13" y="750.9" width="1" height="21.8" fill="#c0636f"/>
<rect x="1454.13" y="757.8" width="3" height="12.7" fill="#d95d6b"/>
<rect x="1459.49" y="761.5" width="1" height="12.2" fill="#c0636f"/>
<rect x="1458.49" y="767.9" width="3" height="2.6" fill="#d95d6b"/>
<rect x="1463.86" y="765.2" width="1" height="14.9" fill="#4f8f68"/>
<rect x="1462.86" y="769.1" width="3" height="1.1" fill="#4a9f62"/>
<rect x="1468.22" y="749.3" width="1" height="20.2" fill="#4f8f68"/>
<rect x="1467.22" y="750.9" width="3" height="18.6" fill="#4a9f62"/>
<rect x="1472.58" y="745.5" width="1" height="22.9" fill="#c0636f"/>
<rect x="1471.58" y="750.9" width="3" height="11.1" fill="#d95d6b"/>
<rect x="1476.94" y="753" width="1" height="16.5" fill="#4f8f68"/>
<rect x="1475.94" y="762" width="3" height="1" fill="#4a9f62"/>
<rect x="1481.31" y="689.7" width="1" height="77.6" fill="#4f8f68"/>
<rect x="1480.31" y="713.1" width="3" height="48.9" fill="#4a9f62"/>
<rect x="1485.67" y="699.3" width="1" height="25.5" fill="#c0636f"/>
<rect x="1484.67" y="713.1" width="3" height="7.4" fill="#d95d6b"/>
<rect x="1490.03" y="718.4" width="1" height="19.6" fill="#c0636f"/>
<rect x="1489.03" y="720.5" width="3" height="13.3" fill="#d95d6b"/>
<rect x="1494.39" y="733.3" width="1" height="39.9" fill="#c0636f"/>
<rect x="1493.39" y="733.3" width="3" height="20.2" fill="#d95d6b"/>
<rect x="1498.76" y="748.7" width="1" height="12.8" fill="#c0636f"/>
<rect x="1497.76" y="753.5" width="3" height="5.5" fill="#d95d6b"/>
<rect x="1503.12" y="753.8" width="1" height="13.6" fill="#4f8f68"/>
<rect x="1502.12" y="758.3" width="3" height="1.1" fill="#4a9f62"/>
<rect x="1507.48" y="749" width="1" height="11.2" fill="#4f8f68"/>
<rect x="1506.48" y="755" width="3" height="3.3" fill="#4a9f62"/>
<rect x="1511.84" y="752.2" width="1" height="12" fill="#4f8f68"/>
<rect x="1510.84" y="753.8" width="3" height="1" fill="#4a9f62"/>
<rect x="1515.21" y="727.9" width="3" height="25.9" fill="#4a9f62"/>
<rect x="1520.57" y="713.9" width="1" height="26.4" fill="#c0636f"/>
<rect x="1519.57" y="727.9" width="3" height="5.6" fill="#d95d6b"/>
<rect x="1524.93" y="731.5" width="1" height="11.1" fill="#4f8f68"/>
<rect x="1523.93" y="733.1" width="3" height="1" fill="#4a9f62"/>
<rect x="1529.29" y="721.5" width="1" height="18.5" fill="#c0636f"/>
<rect x="1528.29" y="734.3" width="3" height="2.8" fill="#d95d6b"/>
<rect x="1533.66" y="728.3" width="1" height="13.2" fill="#4f8f68"/>
<rect x="1532.66" y="735.6" width="3" height="1" fill="#4a9f62"/>
<rect x="1538.02" y="731.5" width="1" height="26.3" fill="#c0636f"/>
<rect x="1537.02" y="735.9" width="3" height="6.7" fill="#d95d6b"/>
<rect x="1542.38" y="740.6" width="1" height="18.8" fill="#c0636f"/>
<rect x="1541.38" y="743" width="3" height="10.4" fill="#d95d6b"/>
<rect x="1546.74" y="750.6" width="1" height="10.4" fill="#4f8f68"/>
<rect x="1545.74" y="753" width="3" height="1" fill="#4a9f62"/>
<rect x="1551.11" y="742.6" width="1" height="12.4" fill="#4f8f68"/>
<rect x="1550.11" y="749.8" width="3" height="2.8" fill="#4a9f62"/>
<rect x="1555.47" y="726.3" width="1" height="25.9" fill="#4f8f68"/>
<rect x="1554.47" y="737.1" width="3" height="12.3" fill="#4a9f62"/>
<rect x="1559.83" y="714.7" width="1" height="29.5" fill="#4f8f68"/>
<rect x="1558.83" y="732.3" width="3" height="4.8" fill="#4a9f62"/>
<rect x="1564.2" y="728.3" width="1" height="16.3" fill="#c0636f"/>
<rect x="1563.2" y="733.1" width="3" height="6.4" fill="#d95d6b"/>
<rect x="1568.56" y="730.7" width="1" height="45.5" fill="#c0636f"/>
<rect x="1567.56" y="739.5" width="3" height="13.9" fill="#d95d6b"/>
<rect x="1572.92" y="744.2" width="1" height="19.2" fill="#4f8f68"/>
<rect x="1571.92" y="752.5" width="3" height="1" fill="#4a9f62"/>
<rect x="1577.28" y="744.2" width="1" height="17.6" fill="#c0636f"/>
<rect x="1576.28" y="752.2" width="3" height="4.4" fill="#d95d6b"/>
<rect x="1581.65" y="746.2" width="1" height="10.8" fill="#4f8f68"/>
<rect x="1580.65" y="756" width="3" height="1" fill="#4a9f62"/>
<rect x="1586.01" y="751.8" width="1" height="16.8" fill="#c0636f"/>
<rect x="1585.01" y="755.8" width="3" height="5.6" fill="#d95d6b"/>
<rect x="1590.37" y="754.2" width="1" height="12.8" fill="#c0636f"/>
<rect x="1589.37" y="761.4" width="3" height="3.2" fill="#d95d6b"/>
<rect x="1594.73" y="745" width="1" height="43.1" fill="#4f8f68"/>
<rect x="1593.73" y="755" width="3" height="9.6" fill="#4a9f62"/>
<rect x="1599.1" y="734.3" width="1" height="20.7" fill="#4f8f68"/>
<rect x="1598.1" y="737.9" width="3" height="16.3" fill="#4a9f62"/>
<rect x="1603.46" y="728.3" width="1" height="43.9" fill="#c0636f"/>
<rect x="1602.46" y="737.9" width="3" height="10.3" fill="#d95d6b"/>
<rect x="1607.82" y="732.7" width="1" height="15.3" fill="#4f8f68"/>
<rect x="1606.82" y="738.7" width="3" height="8.7" fill="#4a9f62"/>
<rect x="1612.18" y="734.8" width="1" height="23" fill="#c0636f"/>
<rect x="1611.18" y="737.9" width="3" height="14.3" fill="#d95d6b"/>
<rect x="1616.55" y="736.3" width="1" height="16.7" fill="#4f8f68"/>
<rect x="1615.55" y="741.1" width="3" height="11.5" fill="#4a9f62"/>
<rect x="1620.91" y="726.3" width="1" height="30.3" fill="#c0636f"/>
<rect x="1619.91" y="739.9" width="3" height="11.5" fill="#d95d6b"/>
<rect x="1625.27" y="745" width="1" height="7.2" fill="#4f8f68"/>
<rect x="1624.27" y="748.2" width="3" height="3.2" fill="#4a9f62"/>
<rect x="1629.63" y="745" width="1" height="16" fill="#c0636f"/>
<rect x="1628.63" y="748.2" width="3" height="10" fill="#d95d6b"/>
<rect x="1634" y="655.4" width="1" height="103.3" fill="#4f8f68"/>
<rect x="1633" y="676.1" width="3" height="82.6" fill="#4a9f62"/>
<rect x="1638.36" y="585.9" width="1" height="91.1" fill="#4f8f68"/>
<rect x="1637.36" y="588.2" width="3" height="87.1" fill="#4a9f62"/>
<rect x="1642.72" y="562.2" width="1" height="46.6" fill="#4f8f68"/>
<rect x="1641.72" y="581.3" width="3" height="7.6" fill="#4a9f62"/>
<rect x="1647.08" y="569.8" width="1" height="33.2" fill="#c0636f"/>
<rect x="1646.08" y="580.5" width="3" height="19.1" fill="#d95d6b"/>
<rect x="1651.45" y="578.6" width="1" height="24.4" fill="#4f8f68"/>
<rect x="1650.45" y="583.6" width="3" height="16" fill="#4a9f62"/>
<rect x="1655.81" y="544.6" width="1" height="48.2" fill="#4f8f68"/>
<rect x="1654.81" y="559.9" width="3" height="23.7" fill="#4a9f62"/>
<rect x="1660.17" y="546.1" width="1" height="30.4" fill="#c0636f"/>
<rect x="1659.17" y="559.9" width="3" height="16" fill="#d95d6b"/>
<rect x="1664.54" y="566" width="1" height="49.7" fill="#4f8f68"/>
<rect x="1663.54" y="569" width="3" height="6.9" fill="#4a9f62"/>
<rect x="1668.9" y="559.1" width="1" height="45.1" fill="#4f8f68"/>
<rect x="1667.9" y="560.6" width="3" height="8.4" fill="#4a9f62"/>
<rect x="1673.26" y="560.6" width="1" height="49" fill="#c0636f"/>
<rect x="1672.26" y="560.6" width="3" height="28.3" fill="#d95d6b"/>
<rect x="1677.62" y="575.2" width="1" height="23.3" fill="#c0636f"/>
<rect x="1676.62" y="588.2" width="3" height="8.4" fill="#d95d6b"/>
<rect x="1681.99" y="592" width="1" height="35.9" fill="#c0636f"/>
<rect x="1680.99" y="596.3" width="3" height="1" fill="#d95d6b"/>
<rect x="1686.35" y="589" width="1" height="12.2" fill="#4f8f68"/>
<rect x="1685.35" y="590.5" width="3" height="6.8" fill="#4a9f62"/>
<rect x="1690.71" y="580.5" width="1" height="19.1" fill="#4f8f68"/>
<rect x="1689.71" y="585.1" width="3" height="5.4" fill="#4a9f62"/>
<rect x="1695.07" y="572.9" width="1" height="13.7" fill="#c0636f"/>
<rect x="1694.07" y="585.1" width="3" height="1" fill="#d95d6b"/>
<rect x="1699.44" y="585.9" width="1" height="13.7" fill="#c0636f"/>
<rect x="1698.44" y="585.9" width="3" height="3.8" fill="#d95d6b"/>
<rect x="1703.8" y="587.4" width="1" height="19.9" fill="#c0636f"/>
<rect x="1702.8" y="589.7" width="3" height="13" fill="#d95d6b"/>
<rect x="1708.16" y="588.9" width="1" height="15.1" fill="#4f8f68"/>
<rect x="1707.16" y="589.7" width="3" height="13" fill="#4a9f62"/>
<rect x="1711.52" y="575.5" width="3" height="14.2" fill="#4a9f62"/>

<g stroke-width="2" fill="none">
<line x1="386.2" y1="597.2" x2="770.5" y2="597.2" stroke="#b94a62"/>
<line x1="386.2" y1="877.4" x2="770.5" y2="877.4" stroke="#dcbc66"/>
<line x1="385.8" y1="1051.2" x2="770.8" y2="1051.2" stroke="#787b86" stroke-width="1.6"/>
<line x1="848.1" y1="144.1" x2="1699.5" y2="144.1" stroke="#b94a62"/>
<line x1="848.1" y1="428.4" x2="1699.5" y2="428.4" stroke="#dcbc66"/>
<line x1="848.8" y1="605.4" x2="1699.5" y2="605.4" stroke="#787b86" stroke-width="1.6"/>
</g>
<g font-size="15.6" text-anchor="middle" style="letter-spacing:0.68px">
<text x="578.8" y="587.3" fill="#d0607a" stroke="#d0607a" stroke-width="0.2">2.618 (2.1331)</text>
<text x="578.5" y="867.6" fill="#d6ba60" stroke="#d6ba60" stroke-width="0.2">1.618 (0.1726)</text>
<text x="578.3" y="1041.1" fill="#7e8085" stroke="#7e8085" stroke-width="0.2">1 (0.0364)</text>
<text x="1274.2" y="133.8" fill="#d0607a" stroke="#d0607a" stroke-width="0.2">2.618 (123.5278)</text>
<text x="1274" y="417.9" fill="#d6ba60" stroke="#d6ba60" stroke-width="0.2">1.618 (9.6310)</text>
<text x="1274" y="595.3" fill="#7e8085" stroke="#7e8085" stroke-width="0.2">1 (1.9900)</text>
</g>

<g stroke="#d4475f" stroke-width="2.6" fill="none" stroke-linecap="round" stroke-linejoin="round"><path d="M848.9,604.3 L862.9,603.8 L877.0,603.6 L891.0,603.4 L905.1,603.4 L919.1,603.5 L933.2,603.7 L947.2,604.0 L961.3,604.4 L975.3,604.9 L989.4,605.5 L1003.4,606.3 L1017.5,607.1 L1031.5,608.1 L1045.6,609.2 L1059.6,610.3 L1073.7,611.6 L1087.7,613.0 L1101.8,614.5 L1115.8,616.1 L1129.9,617.8 L1143.9,619.6 L1158.0,621.5 L1172.0,623.5 L1186.1,625.7 L1200.1,627.9 L1214.2,630.2 L1228.2,632.7 L1242.3,635.2 L1256.3,637.8 L1270.4,640.6 L1284.4,643.4 L1298.5,646.4 L1312.5,649.4 L1326.6,652.6 L1340.6,655.8 L1354.7,659.2 L1368.7,662.7 L1382.8,666.2 L1396.8,669.9 L1410.9,673.6 L1424.9,677.5 L1439.0,681.4 L1453.0,685.5 L1467.1,689.6 L1481.1,693.9 L1495.2,698.2 L1509.2,702.7 L1523.3,707.2 L1537.3,711.9 L1551.4,716.6 L1565.4,721.4 L1579.5,726.4 L1593.5,731.4 L1607.6,736.5 L1621.6,741.7 L1635.7,747.0 L1649.7,752.4 L1663.8,757.9 L1677.8,763.3"/><path d="M1102.2,890.7 L1112.0,887.5 L1121.7,884.2 L1131.5,881.0 L1141.2,877.8 L1151.0,874.7 L1160.7,871.6 L1170.5,868.6 L1180.2,865.5 L1190.0,862.6 L1199.8,859.6 L1209.5,856.7 L1219.3,853.8 L1229.0,851.0 L1238.8,848.2 L1248.5,845.5 L1258.3,842.8 L1268.1,840.1 L1277.8,837.5 L1287.6,834.9 L1297.3,832.4 L1307.1,829.9 L1316.8,827.4 L1326.6,825.0 L1336.3,822.6 L1346.1,820.2 L1355.9,817.9 L1365.6,815.6 L1375.4,813.4 L1385.1,811.2 L1394.9,809.1 L1404.6,806.9 L1414.4,804.9 L1424.1,802.8 L1433.9,800.8 L1443.7,798.9 L1453.4,797.0 L1463.2,795.1 L1472.9,793.2 L1482.7,791.4 L1492.4,789.7 L1502.2,787.9 L1511.9,786.3 L1521.7,784.6 L1531.5,783.0 L1541.2,781.4 L1551.0,779.9 L1560.7,778.4 L1570.5,777.0 L1580.2,775.6 L1590.0,774.2 L1599.8,772.8 L1609.5,771.6 L1619.3,770.3 L1629.0,769.1 L1638.8,767.9 L1648.5,766.8 L1658.3,765.7 L1668.0,764.6 L1677.8,763.3"/><path d="M390.7,1052.5 L397.6,1054.3 L404.5,1056.3 L411.4,1058.4 L418.2,1060.5 L425.1,1062.7 L432.0,1064.9 L438.9,1067.2 L445.8,1069.5 L452.7,1071.9 L459.5,1074.4 L466.4,1076.9 L473.3,1079.5 L480.2,1082.1 L487.1,1084.8 L494.0,1087.5 L500.9,1090.3 L507.7,1093.1 L514.6,1096.0 L521.5,1099.0 L528.4,1102.0 L535.3,1105.0 L542.2,1108.1 L549.0,1111.2 L555.9,1114.4 L562.8,1117.7 L569.7,1121.0 L576.6,1124.3 L583.5,1127.7 L590.4,1131.1 L597.2,1134.6 L604.1,1138.1 L611.0,1141.7 L617.9,1145.3 L624.8,1149.0 L631.7,1152.7 L638.6,1156.4 L645.4,1160.2 L652.3,1164.0 L659.2,1167.9 L666.1,1171.8 L673.0,1175.8 L679.9,1179.8 L686.7,1183.8 L693.6,1187.9 L700.5,1192.1 L707.4,1196.2 L714.3,1200.4 L721.2,1204.7 L728.1,1208.9 L734.9,1213.3 L741.8,1217.6 L748.7,1222.0 L755.6,1226.4 L762.5,1230.9 L769.4,1235.4 L776.2,1239.9 L783.1,1244.5 L790.0,1249.1 L796.9,1254.2"/><path d="M438.7,1338.5 L444.8,1336.4 L450.8,1334.4 L456.9,1332.3 L463.0,1330.3 L469.1,1328.4 L475.1,1326.5 L481.2,1324.6 L487.3,1322.7 L493.3,1320.9 L499.4,1319.1 L505.5,1317.3 L511.6,1315.6 L517.6,1313.9 L523.7,1312.2 L529.8,1310.6 L535.8,1309.0 L541.9,1307.4 L548.0,1305.8 L554.1,1304.3 L560.1,1302.7 L566.2,1301.2 L572.3,1299.8 L578.3,1298.3 L584.4,1296.9 L590.5,1295.5 L596.6,1294.1 L602.6,1292.7 L608.7,1291.3 L614.8,1290.0 L620.8,1288.7 L626.9,1287.4 L633.0,1286.1 L639.0,1284.8 L645.1,1283.5 L651.2,1282.3 L657.3,1281.0 L663.3,1279.8 L669.4,1278.6 L675.5,1277.4 L681.5,1276.2 L687.6,1275.0 L693.7,1273.8 L699.8,1272.6 L705.8,1271.4 L711.9,1270.2 L718.0,1269.1 L724.0,1267.9 L730.1,1266.8 L736.2,1265.6 L742.3,1264.4 L748.3,1263.3 L754.4,1262.1 L760.5,1261.0 L766.5,1259.8 L772.6,1258.7 L778.7,1257.5 L784.8,1256.3 L790.8,1255.2 L796.9,1254.2"/></g>
<rect x="746" y="1035" width="53" height="48.8" fill="#4caf50" fill-opacity="0.3"/>
<rect x="1628" y="553.5" width="83.7" height="70.6" fill="#4caf50" fill-opacity="0.3"/>
<svg x="886.7" y="625.4" width="19.6" height="18.3" viewBox="0 0 1200 1227" preserveAspectRatio="none"><path fill="#111" stroke="#111" stroke-width="45" d="M714.163 519.284L1160.89 0H1055.03L667.137 450.887L357.328 0H0L468.492 681.821L0 1226.37H105.866L515.491 750.218L842.672 1226.37H1200L714.137 519.284H714.163ZM569.165 687.828L521.697 619.934L144.011 79.6944H306.615L611.412 515.685L658.88 583.579L1055.08 1150.3H892.476L569.165 687.854V687.828Z"/></svg>
<text x="903.9" y="637.9" font-size="13" font-weight="bold" fill="#111">:</text>
<text x="911.4" y="639.9" font-size="14" font-weight="bold" fill="#111" stroke="#111" stroke-width="0.45" transform="translate(911.4 0) scale(0.853 1) translate(-911.4 0)">@JAVONTM1</text>
<path d="M1899.6,569 C1977.7,505.5 1979,436.1 1979,289 M1962,306 L1979,289 L1996,306" stroke="#000" stroke-width="3.2" fill="none" stroke-linecap="round" stroke-linejoin="round"/>
</g>
<!-- price axis -->
<g font-size="14" fill="#3c3f47" style="letter-spacing:0.45px">
<text x="2475.5" y="38.3">330.0000</text>
<text x="2475.5" y="73.8">240.0000</text>
<text x="2475.5" y="112.5">170.0000</text>
<text x="2475.5" y="146">126.0000</text>
<text x="2475.5" y="183.9">90.0000</text>
<text x="2475.5" y="220.2">65.0000</text>
<text x="2475.5" y="255.7">47.0000</text>
<text x="2475.5" y="295.4">33.0000</text>
<text x="2475.5" y="331.2">24.0000</text>
<text x="2475.5" y="369.9">17.0000</text>
<text x="2475.5" y="404.1">12.5000</text>
<text x="2475.5" y="440.4">9.0000</text>
<text x="2475.5" y="477">6.5000</text>
<text x="2475.5" y="513.4">4.7000</text>
<text x="2475.5" y="552.9">3.3000</text>
<text x="2475.5" y="627.2">1.7000</text>
<text x="2475.5" y="661.9">1.2500</text>
<text x="2475.5" y="698.3">0.9000</text>
<text x="2475.5" y="734.5">0.6500</text>
<text x="2475.5" y="770.9">0.4700</text>
<text x="2475.5" y="810.2">0.3300</text>
<text x="2475.5" y="845.8">0.2400</text>
<text x="2475.5" y="884.5">0.1700</text>
<text x="2475.5" y="918.6">0.1250</text>
<text x="2475.5" y="955.5">0.0900</text>
<text x="2475.5" y="991.7">0.0650</text>
<text x="2475.5" y="1027.8">0.0470</text>
<text x="2475.5" y="1067.4">0.0330</text>
<text x="2475.5" y="1102.5">0.0240</text>
<text x="2475.5" y="1141.2">0.0170</text>
<text x="2475.5" y="1175.4">0.0125</text>
<text x="2475.5" y="1211.5">0.0090</text>
<text x="2475.5" y="1246">0.0066</text>
<text x="2475.5" y="1280.8">0.0048</text>
<text x="2475.5" y="1315.2">0.0035</text>
<text x="2475.5" y="1351.5">0.0025</text>
<text x="2475.5" y="1387">0.0018</text>
<text x="2475.5" y="1420.8">0.0013</text>
<text x="2475.5" y="1458.7">0.0009</text>
</g>
<line x1="2465" y1="1492.6" x2="2549" y2="1492.6" stroke="#8a8d94" stroke-width="1.2"/>
<g clip-path="url(#chart2)"></g>
<g font-size="15" font-weight="bold" fill="#131722" text-anchor="middle" style="letter-spacing:0.4px">
<text x="399.8" y="1514.6">2014</text>
<text x="513.2" y="1514.6">2015</text>
<text x="626.7" y="1514.6">2016</text>
<text x="739.9" y="1514.6">2017</text>
<text x="853.4" y="1514.6">2018</text>
<text x="971.3" y="1514.6">2019</text>
<text x="1084.7" y="1514.6">2020</text>
<text x="1198.1" y="1514.6">2021</text>
<text x="1311.4" y="1514.6">2022</text>
<text x="1425.1" y="1514.6">2023</text>
<text x="1538.3" y="1514.6">2024</text>
<text x="1656.1" y="1514.6">2025</text>
<text x="1769.6" y="1514.6">2026</text>
<text x="1883" y="1514.6">2027</text>
<text x="1996.4" y="1514.6">2028</text>
<text x="2109.8" y="1514.6">2029</text>
<text x="2227.5" y="1514.6">2030</text>
<text x="2340.7" y="1514.6">2031</text>
<text x="2455.4" y="1514.6">2032</text>
</g>
<rect x="2465" y="1494" width="84" height="30" fill="#ffffff"/>
<!-- legend -->
<g font-size="13.2">
<text x="20.7" y="52.7" fill="#131722">XRP / U.S. Dollar · 2W · CRYPTO</text>
<text x="229.6" y="52.7" fill="#131722">O</text><text x="240" y="52.7" fill="#2f9e84" style="letter-spacing:0.42px">2.2716</text>
<text x="289.4" y="52.7" fill="#131722">H</text><text x="299.4" y="52.7" fill="#2f9e84" style="letter-spacing:0.42px">2.5929</text>
<text x="351.9" y="52.7" fill="#131722">L</text><text x="359.6" y="52.7" fill="#2f9e84" style="letter-spacing:0.42px">2.2487</text>
<text x="410.5" y="52.7" fill="#131722">C</text><text x="420.5" y="52.7" fill="#2f9e84" style="letter-spacing:0.42px">2.5823</text>
<text x="472.2" y="52.7" fill="#2f9e84" style="letter-spacing:0.42px">+0.3107 (+13.68%)</text>
</g>
<path d="M2403.5,566.5 H2465 V585 H2403.5 Q2401.3,585 2401.3,582.8 V568.7 Q2401.3,566.5 2403.5,566.5Z" fill="#4caf50"/>
<path d="M2465.7,566.5 H2524.6 Q2526.8,566.5 2526.8,568.7 V598.4 Q2526.8,600.6 2524.6,600.6 H2465.7Z" fill="#4caf50"/>
<g fill="#fff" font-size="12.8"><text x="2406.6" y="580.5">XRPUSD</text><text x="2476.2" y="580.6" font-size="13.3" style="letter-spacing:0.75px">2.5823</text><text x="2476" y="595.8" font-size="13.3" style="letter-spacing:0.75px">9d 21h</text></g>
<svg x="2119.9" y="1204.2" width="276.3" height="230.1" viewBox="0 0 512 424" preserveAspectRatio="none">
<path fill="#23292f" d="M437,0h74L357,152.48c-55.77,55.19-146.19,55.19-202,0L0.94,0H75L192,115.83a91.11,91.11,0,0,0,127.91,0Z"/>
<path fill="#23292f" d="M74.05,424H0L155,270.58c55.77-55.19,146.19-55.19,202,0L512,424H438L320,307.23a91.11,91.11,0,0,0-127.91,0Z"/>
</svg>
<g stroke="#000" stroke-width="3.5" fill="none" stroke-linecap="round" stroke-linejoin="round">
<path d="M448.6,1350.1 L456.4,1342.5 L464.2,1350.1 M456.4,1342.5 L456.4,1358.1" />
<path d="M605.6,1306.6 L613.4,1299 L621.2,1306.6 M613.4,1299 L613.4,1314.6" />
<path d="M749.9,1281.1 L757.7,1273.5 L765.5,1281.1 M757.7,1273.5 L757.7,1289.1" />
<path d="M1099,946.9 L1106.8,939.3 L1114.6,946.9 M1106.8,939.3 L1106.8,954.9" />
<path d="M1190.5,894.5 L1198.3,886.9 L1206.1,894.5 M1198.3,886.9 L1198.3,902.5" />
<path d="M1391,832.2 L1398.8,824.6 L1406.6,832.2 M1398.8,824.6 L1398.8,840.2" />
<path d="M1587.5,798.3 L1595.3,790.7 L1603.1,798.3 M1595.3,790.7 L1595.3,806.3" />
</g>
</g>
<g fill="#d6d6d6" transform="translate(11.2 1534.9) scale(0.6)"><path d="M14 22H7V11H0V4h14v18zM28 22h-8l7.5-18h8L28 22z"/><circle cx="20" cy="8" r="4"/></g>
<text x="37.2" y="1549.7" font-size="14.9" fill="#d6d6d6" stroke="#d6d6d6" stroke-width="0.25">TradingView</text>
</svg>
</body></html>
